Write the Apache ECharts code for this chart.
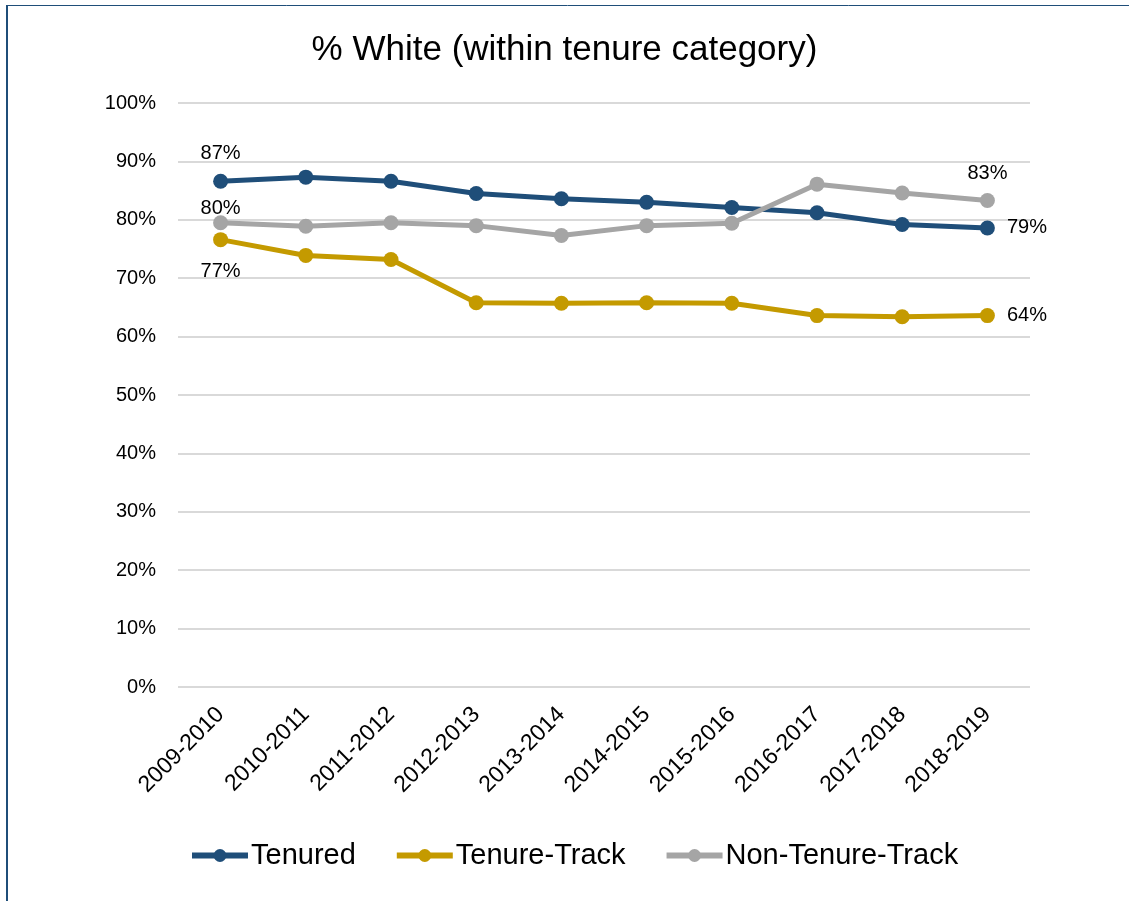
<!DOCTYPE html>
<html>
<head>
<meta charset="utf-8">
<script src="https://cdn.jsdelivr.net/npm/echarts@6/dist/echarts.min.js"></script>
<style>
  html, body { margin: 0; padding: 0; background: #fff; }
  #chart { width: 1129px; height: 901px; }
</style>
</head>
<body>
<div id="chart"></div>
<script>
// academic years on the x axis
const years = ['2009-2010', '2010-2011', '2011-2012', '2012-2013', '2013-2014',
  '2014-2015', '2015-2016', '2016-2017', '2017-2018', '2018-2019'];
// percent white
const tenured = [86.6, 87.3, 86.6, 84.5, 83.6, 83.0, 82.1, 81.2, 79.2, 78.6];
const tenureTrack = [76.6, 73.9, 73.2, 65.8, 65.7, 65.8, 65.7, 63.6, 63.4, 63.6];
const nonTenureTrack = [79.5, 78.9, 79.5, 79.0, 77.3, 79.0, 79.4, 86.1, 84.6, 83.3];
const yTicks = [0, 10, 20, 30, 40, 50, 60, 70, 80, 90, 100];

const FONT = '"Liberation Sans", sans-serif';

// only the first and last points carry a label
function withEndLabels(values, first, last) {
  return values.map((v, i) => {
    const spot = i === 0 ? first : (i === values.length - 1 ? last : null);
    if (!spot) return v;
    return {
      value: v,
      label: {
        show: true,
        position: spot[0],
        distance: spot[1],
        formatter: (p) => Math.round(p.value) + '%',
        color: '#000',
        fontSize: 20,
        fontFamily: FONT
      }
    };
  });
}

function lineSeries(name, color, data) {
  return {
    name: name,
    type: 'line',
    data: data,
    symbol: 'circle',
    symbolSize: 15,
    lineStyle: { width: 5, color: color },
    itemStyle: { color: color },
    emphasis: { disabled: true },
    z: 3
  };
}

const chart = echarts.init(document.getElementById('chart'));
chart.setOption({
  animation: false,
  backgroundColor: '#fff',
  title: {
    text: '% White (within tenure category)',
    left: 'center',
    top: 28,
    textStyle: { fontSize: 35, fontWeight: 'normal', color: '#000', fontFamily: FONT }
  },
  grid: { left: 178, right: 99, top: 103, bottom: 214 },
  legend: {
    bottom: 26,
    left: 184,
    itemWidth: 56,
    itemHeight: 16,
    itemGap: 38,
    lineStyle: { width: 6 },
    textStyle: { fontSize: 29, color: '#000', fontFamily: FONT, padding: [0, 0, 0, -2] },
    data: ['Tenured', 'Tenure-Track', 'Non-Tenure-Track']
  },
  xAxis: {
    type: 'category',
    data: years,
    axisLine: { show: false },
    axisTick: { show: false },
    axisLabel: {
      rotate: 45,
      interval: 0,
      margin: 24,
      fontSize: 23,
      color: '#000',
      fontFamily: FONT
    }
  },
  yAxis: {
    type: 'value',
    min: yTicks[0],
    max: yTicks[yTicks.length - 1],
    interval: 10,
    axisLine: { show: false },
    axisTick: { show: false },
    axisLabel: {
      margin: 22,
      fontSize: 20,
      color: '#000',
      fontFamily: FONT,
      formatter: '{value}%'
    },
    splitLine: { lineStyle: { color: '#d9d9d9', width: 2 } }
  },
  series: [
    lineSeries('Tenured', '#1f4e79', withEndLabels(tenured, ['top', 10], ['right', 12])),
    lineSeries('Tenure-Track', '#c49a00', withEndLabels(tenureTrack, ['bottom', 14], ['right', 12])),
    lineSeries('Non-Tenure-Track', '#a5a5a5', withEndLabels(nonTenureTrack, ['top', -3], ['top', 10]))
  ],
  graphic: [
    { type: 'line', shape: { x1: 7, y1: 5, x2: 7, y2: 901 }, style: { stroke: '#1f4e79', lineWidth: 2 } },
    { type: 'line', shape: { x1: 6, y1: 5.5, x2: 1129, y2: 5.5 }, style: { stroke: '#1f4e79', lineWidth: 1 } }
  ]
});
</script>
</body>
</html>
